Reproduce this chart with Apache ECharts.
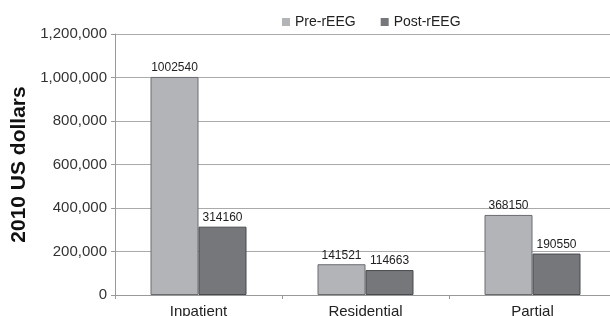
<!DOCTYPE html>
<html>
<head>
<meta charset="utf-8">
<script src="https://cdn.jsdelivr.net/npm/echarts@6/dist/echarts.min.js"></script>
<style>
  html, body { margin: 0; padding: 0; background: #fff; }
  #chart { width: 610px; height: 316px; }
</style>
</head>
<body>
<div id="chart"></div>
<script>
const categories = ['Inpatient', 'Residential', 'Partial']
const preValues = [1002540, 141521, 368150]
const postValues = [314160, 114663, 190550]
const yTicks = [0, 200000, 400000, 600000, 800000, 1000000, 1200000]

const FONT = 'Liberation Sans'
const fmt = (v) => String(v).replace(/\B(?=(\d{3})+(?!\d))/g, ',')

const barLabel = {
  show: true,
  position: 'top',
  distance: 3,
  color: '#222',
  fontSize: 12,
  fontFamily: FONT,
}

const option = {
  animation: false,
  textStyle: { fontFamily: FONT },
  legend: {
    top: 10,
    left: 277,
    itemWidth: 8,
    itemHeight: 8,
    itemGap: 25,
    icon: 'rect',
    itemStyle: { borderWidth: 0 },
    textStyle: { fontSize: 14, color: '#222', fontFamily: FONT },
    data: ['Pre-rEEG', 'Post-rEEG'],
  },
  grid: {
    left: 115, right: -6, top: 34, bottom: 21,
    containLabel: false,
    outerBoundsMode: 'none',
  },
  xAxis: {
    type: 'category',
    data: categories,
    axisLine: { lineStyle: { color: '#999' } },
    axisTick: { show: true, length: 4, lineStyle: { color: '#999' } },
    axisLabel: { color: '#222', fontSize: 15, margin: 9, fontFamily: FONT },
  },
  yAxis: {
    type: 'value',
    min: 0,
    max: yTicks[yTicks.length - 1],
    interval: 200000,
    name: '2010 US dollars',
    nameLocation: 'middle',
    nameGap: 78,
    nameTextStyle: { fontSize: 21, fontWeight: 'bold', color: '#111', fontFamily: FONT },
    axisLine: { show: true, lineStyle: { color: '#999' } },
    axisTick: { show: true, length: 4, lineStyle: { color: '#999' } },
    axisLabel: { color: '#333', fontSize: 15, margin: 8, fontFamily: FONT, formatter: fmt },
    splitLine: { lineStyle: { color: '#aaa', width: 1 } },
  },
  series: [
    {
      name: 'Pre-rEEG',
      type: 'bar',
      data: preValues,
      barWidth: 48,
      barGap: '0%',
      itemStyle: { color: '#b3b4b8', borderColor: '#6b6c70', borderWidth: 1 },
      label: barLabel,
    },
    {
      name: 'Post-rEEG',
      type: 'bar',
      data: postValues,
      barWidth: 48,
      barGap: '0%',
      itemStyle: { color: '#76777b', borderColor: '#4a4b4e', borderWidth: 1 },
      label: barLabel,
    },
  ],
}

const myChart = echarts.init(document.getElementById('chart'))
myChart.setOption(option)
</script>
</body>
</html>
